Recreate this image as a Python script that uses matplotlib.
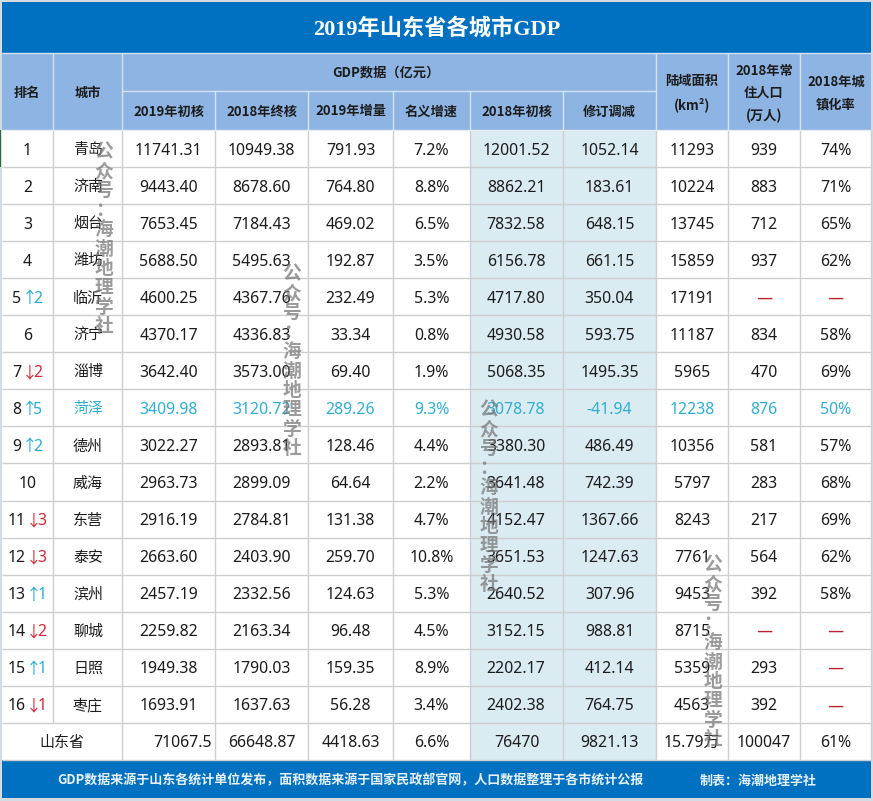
import matplotlib
matplotlib.use("Agg")
import matplotlib.pyplot as plt
from matplotlib.patches import Rectangle

# ---------- data ----------
title = "2019年山东省各城市GDP"
cities = ["青岛", "济南", "烟台", "潍坊", "临沂", "济宁", "淄博", "菏泽",
          "德州", "威海", "东营", "泰安", "滨州", "聊城", "日照", "枣庄"]
rank_change = [0, 0, 0, 0, 2, 0, -2, 5, 2, 0, -3, -3, 1, -2, 1, -1]
gdp_2019 = [11741.31, 9443.40, 7653.45, 5688.50, 4600.25, 4370.17, 3642.40, 3409.98,
            3022.27, 2963.73, 2916.19, 2663.60, 2457.19, 2259.82, 1949.38, 1693.91]
gdp_2018_final = [10949.38, 8678.60, 7184.43, 5495.63, 4367.76, 4336.83, 3573.00, 3120.72,
                  2893.81, 2899.09, 2784.81, 2403.90, 2332.56, 2163.34, 1790.03, 1637.63]
increase = [791.93, 764.80, 469.02, 192.87, 232.49, 33.34, 69.40, 289.26,
            128.46, 64.64, 131.38, 259.70, 124.63, 96.48, 159.35, 56.28]
growth = [7.2, 8.8, 6.5, 3.5, 5.3, 0.8, 1.9, 9.3, 4.4, 2.2, 4.7, 10.8, 5.3, 4.5, 8.9, 3.4]
gdp_2018_initial = [12001.52, 8862.21, 7832.58, 6156.78, 4717.80, 4930.58, 5068.35, 3078.78,
                    3380.30, 3641.48, 4152.47, 3651.53, 2640.52, 3152.15, 2202.17, 2402.38]
revision = [1052.14, 183.61, 648.15, 661.15, 350.04, 593.75, 1495.35, -41.94,
            486.49, 742.39, 1367.66, 1247.63, 307.96, 988.81, 412.14, 764.75]
area = [11293, 10224, 13745, 15859, 17191, 11187, 5965, 12238,
        10356, 5797, 8243, 7761, 9453, 8715, 5359, 4563]
population = [939, 883, 712, 937, None, 834, 470, 876, 581, 283, 217, 564, 392, None, 293, 392]
urban_rate = [74, 71, 65, 62, None, 58, 69, 50, 57, 68, 69, 62, 58, None, None, None]
total_label = "山东省"
total_values = ["71067.5", "66648.87", "4418.63", "6.6%", "76470", "9821.13", "15.79万", "100047", "61%"]
sub_headers = ["2019年初核", "2018年终核", "2019年增量", "名义增速", "2018年初核", "修订调减"]
footer_source = "GDP数据来源于山东各统计单位发布，面积数据来源于国家民政部官网，人口数据整理于各市统计公报"
footer_credit = "制表：海潮地理学社"
watermark = "公众号：海潮地理学社"
highlight_city = "菏泽"

# ---------- layout (pixels) ----------
W, H = 873, 801
col_x = [2, 53, 122, 215, 308, 393, 470, 563, 656, 728, 800, 871]
title_top, head_top, head_mid, body_top = 2, 53, 90.5, 130
row_h = 37.05
n_rows = len(cities) + 1
foot_top = body_top + row_h * n_rows
foot_bot = 798

BLUE = "#0070C0"; HEAD = "#8DB4E2"; PALE = "#DAEBF2"; GRID = "#CFCFCF"
PAGE = "#D3DCE2"; INK = "#1C1C1C"; TEAL = "#2FAED0"; UP = "#2AA9D6"; DOWN = "#CF2A34"; DASH = "#B8202E"
LATIN_CJK = ["Noto Sans", "Noto Sans CJK SC"]
CJK = ["Noto Sans CJK SC", "Noto Sans"]
BODY = 11.4

fig = plt.figure(figsize=(W / 100, H / 100), dpi=100, facecolor=PAGE)
ax = fig.add_axes([0, 0, 1, 1])
ax.set_xlim(0, W); ax.set_ylim(H, 0); ax.axis("off")

def rect(x0, y0, x1, y1, c, z=1):
    ax.add_patch(Rectangle((x0, y0), x1 - x0, y1 - y0, facecolor=c, edgecolor="none", zorder=z))

def txt(x, y, s, size=BODY, color=INK, weight="normal", family=LATIN_CJK, ha="center", z=5):
    ax.text(x, y, s, fontsize=size, color=color, fontweight=weight, family=family,
            ha=ha, va="center_baseline", zorder=z)

# bands
rect(col_x[0], title_top, col_x[-1], head_top, BLUE)
rect(col_x[0], head_top, col_x[-1], body_top, HEAD)
rect(col_x[0], body_top, col_x[-1], foot_top, "white")
rect(col_x[6], body_top, col_x[8], foot_top, PALE)
rect(col_x[0], foot_top, col_x[-1], foot_bot, BLUE)
rect(0, body_top, 1.2, body_top + row_h, "#2E6B3E", 2)

# grid lines
for i in range(1, n_rows + 1):
    ax.hlines(body_top + i * row_h, col_x[0], col_x[-1], color=GRID, lw=1, zorder=3)
for k, x in enumerate(col_x[1:-1], start=1):
    bottom = foot_top if k != 1 else foot_top - row_h
    ax.vlines(x, body_top, bottom, color=GRID, lw=1, zorder=3)
    top = head_mid if 3 <= k <= 7 else head_top
    ax.vlines(x, top, body_top, color="#D5E3F3", lw=1, zorder=3)
ax.hlines(head_mid, col_x[2], col_x[8], color="#D5E3F3", lw=1, zorder=3)
ax.hlines(head_top, col_x[0], col_x[-1], color="#D5E3F3", lw=1, zorder=3)
ax.hlines(body_top, col_x[0], col_x[-1], color="#E4ECF5", lw=1, zorder=3)
ax.vlines(col_x[-1], body_top, foot_top, color=GRID, lw=1, zorder=3)

# title and headers
txt(437, 26.5, title, size=16, color="white", weight="bold", family=["Liberation Serif", "Noto Sans CJK SC"])
HS = 9.5
txt(27, 91, "排名", HS, weight="bold", family=CJK)
txt((col_x[1] + col_x[2]) / 2 + 0.5, 91, "城市", HS, weight="bold", family=CJK)
txt(386, 71.5, "GDP数据（亿元）", HS, weight="bold", family=CJK)
for k, s in enumerate(sub_headers):
    txt((col_x[k + 2] + col_x[k + 3]) / 2, 110, s, HS, weight="bold", family=CJK)
txt(692, 80, "陆域面积", HS, weight="bold", family=CJK)
txt(692, 103, "(km²)", HS, weight="bold", family=CJK)
txt(764, 69, "2018年常", HS, weight="bold", family=CJK)
txt(764, 91.5, "住人口", HS, weight="bold", family=CJK)
txt(764, 114, "(万人)", HS, weight="bold", family=CJK)
txt(836, 80, "2018年城", HS, weight="bold", family=CJK)
txt(836, 103, "镇化率", HS, weight="bold", family=CJK)

# body
centres = [(col_x[i] + col_x[i + 1]) / 2 for i in range(len(col_x) - 1)]
for i, city in enumerate(cities):
    y = body_top + (i + 0.5) * row_h
    c = TEAL if city == highlight_city else INK
    rank = i + 1
    ch = rank_change[i]
    if ch == 0:
        txt(27.5, y, str(rank))
    else:
        two = rank >= 10
        col = UP if ch > 0 else DOWN
        txt(17 if two else 16.5, y, str(rank))
        txt(33.5 if two else 29.5, y, "↑" if ch > 0 else "↓", color=col, family=CJK)
        txt(42 if two else 37.5, y, str(abs(ch)), color=col)
    txt(centres[1] + 0.5, y, city, 10.8, c, family=CJK)
    txt(centres[2], y, f"{gdp_2019[i]:.2f}", color=c)
    txt(centres[3], y, f"{gdp_2018_final[i]:.2f}", color=c)
    txt(centres[4], y, f"{increase[i]:.2f}", color=c)
    txt(centres[5], y, f"{growth[i]:.1f}%", color=c)
    txt(centres[6] - 0.5, y, f"{gdp_2018_initial[i]:.2f}", color=c)
    txt(centres[7], y, f"{revision[i]:.2f}", color=c)
    txt(centres[8], y, str(area[i]), color=c)
    if population[i] is None:
        txt(centres[9], y, "—", 13, DASH, family=CJK)
    else:
        txt(centres[9], y, str(population[i]), color=c)
    if urban_rate[i] is None:
        txt(centres[10], y, "—", 13, DASH, family=CJK)
    else:
        txt(centres[10], y, f"{urban_rate[i]}%", color=c)

# total row
y = body_top + (n_rows - 0.5) * row_h
txt(62, y, total_label, 10.8, family=CJK)
txt(211.5, y, total_values[0], ha="right")
for j, s in enumerate(total_values[1:], start=3):
    txt(centres[j], y, s)

# footer
fy = (foot_top + foot_bot) / 2
txt(350, fy, footer_source, 9.37, "#E6F1FA", "bold", CJK)
txt(758.5, fy, footer_credit, 9.37, "#E6F1FA", "bold", CJK)

# watermarks, one character under another
for wx, wy in [(104, 152), (292, 274), (489, 410), (713, 565)]:
    for n, ch in enumerate(watermark):
        ax.text(wx, wy + n * 19.4, ch, fontsize=13.5, fontweight="bold", family=CJK, color="#757575",
                alpha=0.72, ha="center", va="center", zorder=6)

fig.savefig("out.png", dpi=100, facecolor=PAGE)
